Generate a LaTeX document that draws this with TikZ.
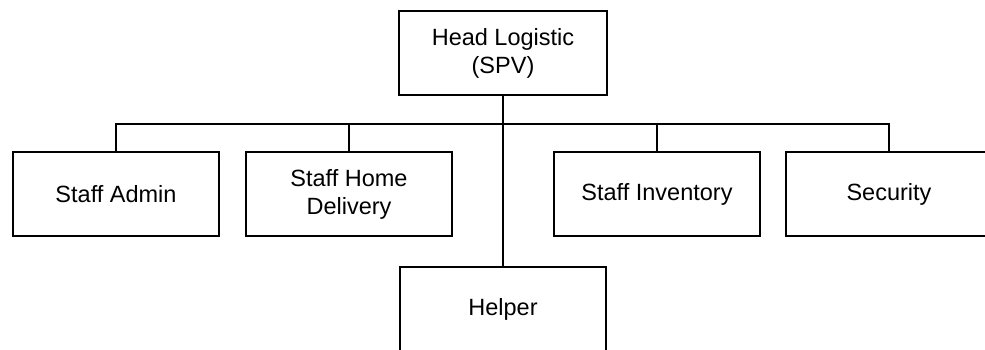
\documentclass[tikz,border=0pt]{standalone}
\usepackage{fontspec}
\setmainfont{Liberation Sans}
\usetikzlibrary{positioning}

\begin{document}
\begin{tikzpicture}[
      x=1pt, y=-1pt,
      unit/.style = {draw, line width=1.6pt, minimum width=206pt,
                     minimum height=84pt, inner sep=0pt, align=center,
                     font=\fontsize{23.5}{28}\selectfont},
      link/.style = {line width=1.1pt},
    ]
    \useasboundingbox (0,0) rectangle (985,349);

    %% The head of the department
    \node [unit, minimum width=208pt] (head) at (503,53) {Head Logistic\\(SPV)};

    %% The staff units below it
    \node [unit] (admin)     at (116,194) {Staff Admin};
    \node [unit] (delivery)  at (349,194) {Staff Home\\Delivery};
    \node [unit] (inventory) at (657,194) {Staff Inventory};
    \node [unit] (security)  at (889,194) {Security};
    \node [unit] (helper)    at (503,309) {Helper};

    %% Connect everything through the horizontal bar
    \coordinate (hub) at (head.south |- 0,124);
    \draw [link] (head.south) -- (helper.north);
    \foreach \u in {admin, delivery, inventory, security}{%
      \draw [link] (hub) -| (\u.north);
    }
  \end{tikzpicture}
\end{document}
